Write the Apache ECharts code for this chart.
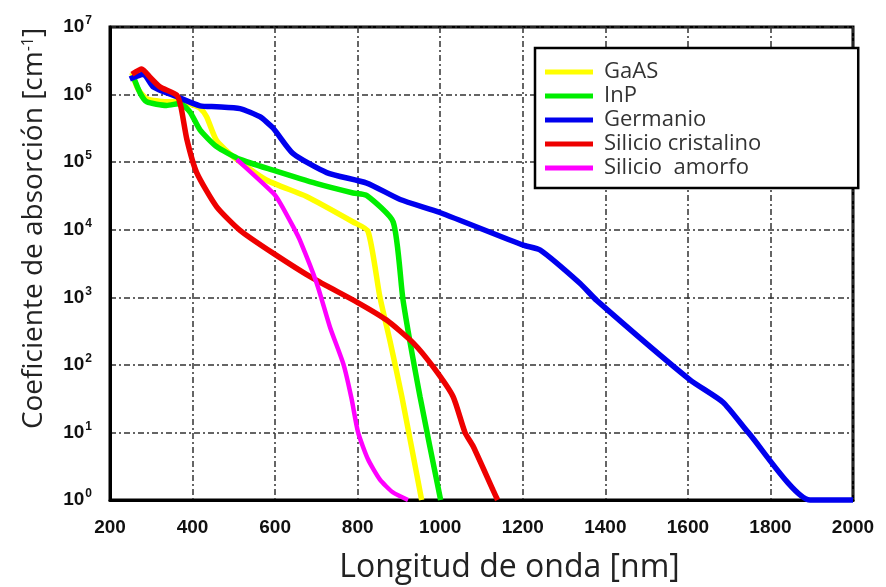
<!DOCTYPE html>
<html lang="es">
<head>
<meta charset="UTF-8">
<title>Coeficiente de absorción</title>
<script src="https://cdn.jsdelivr.net/npm/echarts@6/dist/echarts.min.js"></script>
<style>
  html, body { margin: 0; padding: 0; background: #fff; }
  #main { width: 886px; height: 587px; }
</style>
</head>
<body>
<div id="main"></div>
<script>
// datos: [longitud de onda (nm), coeficiente (cm-1)]
var seriesNames = ['GaAS', 'InP', 'Germanio', 'Silicio cristalino', 'Silicio  amorfo'];
var seriesColors = ['#ffff00', '#00ee00', '#0000ee', '#ee0000', '#ff00ff'];

var gaas = [[253, 2.1e6], [268, 1.2e6], [289, 8.7e5], [337, 7.8e5], [370, 8e5], [400, 7e5],
  [418, 6.3e5], [434, 4.7e5], [458, 2.1e5], [499, 1.2e5], [580, 5.4e4], [676, 3.1e4],
  [789, 1.3e4], [825, 9.5e3], [854, 1e3], [878, 2.3e2], [907, 34], [955, 1]];

var inp = [[257, 1.8e6], [273, 1.05e6], [289, 7.8e5], [337, 6.9e5], [370, 7.4e5], [394, 5.5e5],
  [418, 3e5], [458, 1.7e5], [515, 1.1e5], [595, 7.6e4], [701, 4.8e4], [789, 3.5e4],
  [822, 3.2e4], [886, 1.3e4], [910, 9e2], [951, 34], [1001, 1]];

var germanio = [[248, 1.7e6], [281, 2e6], [305, 1.3e6], [362, 9.3e5], [418, 6.8e5], [458, 6.6e5],
  [515, 6.2e5], [563, 4.7e5], [595, 3.2e5], [643, 1.35e5], [725, 7e4], [822, 4.9e4],
  [903, 2.8e4], [999, 1.8e4], [1201, 5.9e3], [1242, 5e3], [1339, 1.6e3], [1379, 9e2],
  [1605, 60], [1685, 28], [1746, 10], [1896, 1], [2000, 1]];

var siCristalino = [[253, 2e6], [277, 2.4e6], [297, 1.8e6], [321, 1.3e6], [362, 9.8e5],
  [372, 6.5e5], [386, 2.2e5], [410, 7e4], [458, 2.2e4], [515, 9.8e3], [595, 4.5e3],
  [692, 1.9e3], [798, 8.5e2], [870, 4.6e2], [935, 2.1e2], [983, 93], [1031, 34],
  [1060, 10], [1080, 6.2], [1128, 1.4], [1139, 1]];

var siAmorfo = [[507, 1.1e5], [595, 3.5e4], [612, 2.5e4], [644, 1.1e4], [660, 7e3],
  [701, 1.6e3], [733, 3.6e2], [766, 100], [785, 32], [801, 10], [825, 4], [854, 2],
  [885, 1.3], [922, 1]];

var allData = [gaas, inp, germanio, siCristalino, siAmorfo];

var myChart = echarts.init(document.getElementById('main'));

var series = [];
for (var i = 0; i < allData.length; i++) {
  series.push({
    name: seriesNames[i],
    type: 'line',
    data: allData[i],
    symbol: 'none',
    smooth: 0.2,
    clip: false,
    lineStyle: { color: seriesColors[i], width: i == 4 ? 4.5 : 5.5 },
    itemStyle: { color: seriesColors[i] }
  });
}

var gridLine = { show: true, lineStyle: { color: '#333', width: 1.5, type: [6, 3, 2, 3] } };

var option = {
  backgroundColor: '#fff',
  animation: false,
  grid: {
    left: 110, right: 33, top: 27, bottom: 87,
    containLabel: false,
    outerBoundsMode: 'none',
    show: true, borderColor: '#000', borderWidth: 3
  },
  legend: {
    orient: 'vertical',
    left: 535, top: 48,
    icon: 'rect',
    itemWidth: 48, itemHeight: 5,
    itemGap: 2,
    padding: [13, 97, 9, 10],
    backgroundColor: '#fff',
    borderColor: '#000',
    borderWidth: 2.5,
    textStyle: { fontFamily: 'Open Sans', fontSize: 22, color: '#333', padding: [0, 0, 0, 6] },
    data: seriesNames
  },
  xAxis: {
    type: 'value',
    min: 200, max: 2000, interval: 200,
    name: 'Longitud de onda [nm]',
    nameLocation: 'middle',
    nameGap: 52,
    nameTextStyle: { fontFamily: 'Open Sans', fontSize: 32, color: '#222', padding: [0, 0, 0, 56] },
    axisLine: { lineStyle: { color: '#000', width: 3 } },
    axisTick: { show: false },
    axisLabel: {
      margin: 18, fontFamily: 'Liberation Sans', fontWeight: 'bold', fontSize: 19, color: '#111',
      formatter: function (v) { return String(v); }
    },
    splitLine: gridLine
  },
  yAxis: {
    type: 'log',
    logBase: 10,
    min: 1, max: 1e7,
    name: '{n|Coeficiente de absorción [cm}{s|-1}{n|]}',
    nameLocation: 'middle',
    nameGap: 62,
    nameTextStyle: {
      padding: [0, 0, 0, 70],
      rich: {
        n: { fontFamily: 'Open Sans', fontSize: 28, color: '#222' },
        s: { fontFamily: 'Open Sans', fontSize: 16, color: '#222', padding: [0, 0, 12, 0] }
      }
    },
    axisLine: { lineStyle: { color: '#000', width: 3 } },
    axisTick: { show: false },
    axisLabel: {
      margin: 18,
      formatter: function (v) {
        return '{b|10}{e|' + Math.round(Math.log10(v)) + '}';
      },
      rich: {
        b: { fontFamily: 'Liberation Sans', fontWeight: 'bold', fontSize: 19, color: '#111' },
        e: { fontFamily: 'Liberation Sans', fontWeight: 'bold', fontSize: 12, color: '#111', padding: [0, 0, 12, 1] }
      }
    },
    splitLine: gridLine
  },
  series: series
};

myChart.setOption(option);
</script>
</body>
</html>
